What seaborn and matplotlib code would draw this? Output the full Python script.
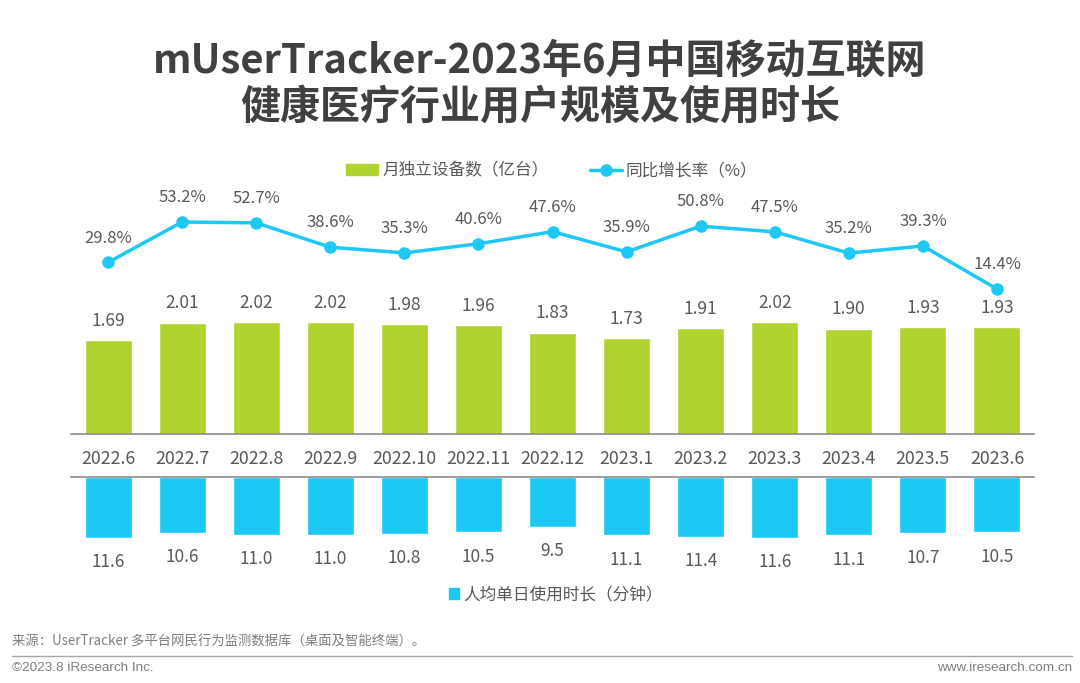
import matplotlib
matplotlib.use('Agg')
import matplotlib.pyplot as plt
import seaborn as sns
from matplotlib.patches import Patch
from matplotlib.lines import Line2D

months = ['2022.6', '2022.7', '2022.8', '2022.9', '2022.10', '2022.11', '2022.12',
          '2023.1', '2023.2', '2023.3', '2023.4', '2023.5', '2023.6']
devices = [1.69, 2.01, 2.02, 2.02, 1.98, 1.96, 1.83, 1.73, 1.91, 2.02, 1.90, 1.93, 1.93]
growth = [29.8, 53.2, 52.7, 38.6, 35.3, 40.6, 47.6, 35.9, 50.8, 47.5, 35.2, 39.3, 14.4]
minutes = [11.6, 10.6, 11.0, 11.0, 10.8, 10.5, 9.5, 11.1, 11.4, 11.6, 11.1, 10.7, 10.5]

GREEN = '#B1D330'
BLUE = '#1DC8F5'
TEXT = '#595959'
W, H = 1080, 683

sns.set_style('white')
plt.rcParams['font.family'] = ['Noto Sans CJK SC', 'DejaVu Sans']

fig = plt.figure(figsize=(W / 100, H / 100), dpi=100)


def px_axes(left, top, right, bottom):
    return fig.add_axes([left / W, 1 - bottom / H, (right - left) / W, (bottom - top) / H])


# upper panel: devices + growth line
ax = px_axes(71, 150, 1034, 434)
sns.barplot(x=months, y=devices, color=GREEN, saturation=1, width=0.635, ax=ax)
ax.set_ylim(0, 284 / 55.4)
ax.set_xlim(-0.5, 12.5)
ax.bar_label(ax.containers[0], labels=[f'{v:.2f}' for v in devices], padding=7.5,
             fontsize=12.5, color=TEXT)
sns.despine(ax=ax, left=True, top=True, right=True)
ax.spines['bottom'].set_color('#8c8c8c')
ax.spines['bottom'].set_linewidth(1.2)
ax.set_yticks([])
ax.set_ylabel('')
ax.tick_params(axis='x', length=0, pad=11.5, labelsize=12.8, labelcolor=TEXT)

ax2 = ax.twinx()
sns.lineplot(x=months, y=growth, sort=False, color=BLUE, linewidth=2.5, marker='o',
             markersize=9, markeredgewidth=0, errorbar=None, ax=ax2)
ax2.set_ylim(-69.6, 94.9)
ax2.set_yticks([])
ax2.set_ylabel('')
sns.despine(ax=ax2, left=True, top=True, right=True, bottom=True)
for i, v in enumerate(growth):
    ax2.annotate(f'{v:.1f}%', (i, v), xytext=(0, 17.5), textcoords='offset points',
                 ha='center', va='center', fontsize=12, color=TEXT)

# lower panel: minutes, hanging down
ax3 = px_axes(71, 477, 1034, 600)
sns.barplot(x=months, y=minutes, color=BLUE, saturation=1, width=0.635, ax=ax3)
ax3.set_ylim(123 / 5.27, 0)
ax3.set_xlim(-0.5, 12.5)
ax3.bar_label(ax3.containers[0], labels=[f'{v:.1f}' for v in minutes], padding=11,
              fontsize=12.4, color=TEXT)
sns.despine(ax=ax3, left=True, bottom=True, right=True, top=False)
ax3.spines['top'].set_color('#8c8c8c')
ax3.spines['top'].set_linewidth(1.2)
ax3.set_xticks([])
ax3.set_yticks([])
ax3.set_xlabel('')
ax3.set_ylabel('')

# legends
fig.legend(handles=[Patch(color=GREEN, label='月独立设备数（亿台）'),
                    Line2D([], [], color=BLUE, lw=2.5, marker='o', markersize=9,
                           markeredgewidth=0, label='同比增长率（%）')],
           loc='center', bbox_to_anchor=(552 / W, 1 - 171 / H), ncol=2, frameon=False,
           fontsize=12, labelcolor=TEXT, handlelength=1.9, handletextpad=0.25,
           columnspacing=2.5, handleheight=0.6)
fig.legend(handles=[Patch(color=BLUE, label='人均单日使用时长（分钟）')],
           loc='center', bbox_to_anchor=(556 / W, 1 - 594.5 / H), frameon=False,
           fontsize=12, labelcolor=TEXT, handlelength=0.6, handletextpad=0.3,
           handleheight=0.65)

# title and footer
fig.text(540 / W, 1 - 61 / H, 'mUserTracker-2023年6月中国移动互联网', ha='center', va='center',
         fontsize=28.8, fontweight='bold', color='#404040')
fig.text(540 / W, 1 - 107.5 / H, '健康医疗行业用户规模及使用时长', ha='center', va='center',
         fontsize=28.8, fontweight='bold', color='#404040')
fig.text(12 / W, 1 - 642 / H, '来源：UserTracker 多平台网民行为监测数据库（桌面及智能终端）。',
         ha='left', va='center', fontsize=9.6, color='#7f7f7f')
fig.add_artist(Line2D([12 / W, 1072 / W], [1 - 656 / H] * 2, color='#a6a6a6', lw=1,
                      transform=fig.transFigure))
fig.text(12 / W, 1 - 668 / H, '©2023.8 iResearch Inc.', ha='left', va='center',
         fontsize=9.7, color='#7f7f7f', family='Liberation Sans')
fig.text(1072 / W, 1 - 668 / H, 'www.iresearch.com.cn', ha='right', va='center',
         fontsize=9.7, color='#7f7f7f', family='Liberation Sans')

fig.savefig('out.png', dpi=100)
